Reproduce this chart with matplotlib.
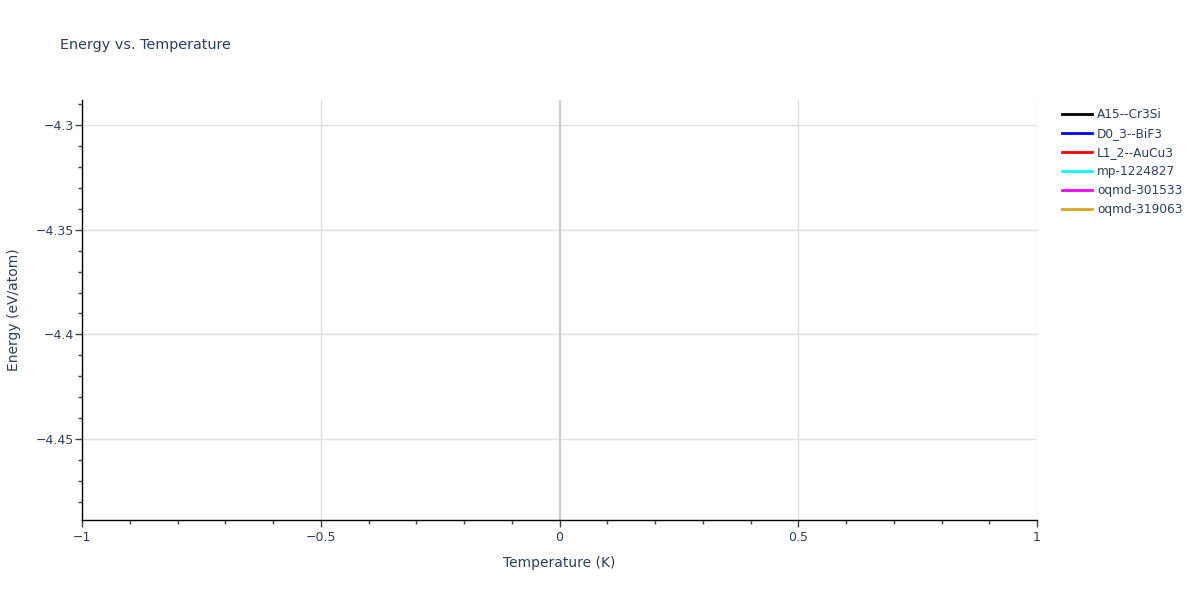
import matplotlib
matplotlib.use("Agg")
import matplotlib.pyplot as plt
from matplotlib.ticker import MultipleLocator, FuncFormatter
from matplotlib.lines import Line2D

plt.rcParams['font.family'] = ['DejaVu Sans']

# series in the legend (no points were drawn in the source chart)
names = ["A15--Cr3Si", "D0_3--BiF3", "L1_2--AuCu3", "mp-1224827", "oqmd-301533", "oqmd-319063"]
colors = ["black", "blue", "red", "cyan", "magenta", "goldenrod"]
temps = [[], [], [], [], [], []]
energies = [[], [], [], [], [], []]

xticks = [-1, -0.5, 0, 0.5, 1]
yticks = [-4.3, -4.35, -4.4, -4.45]

text_col = "#2a3f5f"
grid_col = "#e0e0e0"

fig = plt.figure(figsize=(12, 6), dpi=100)
ax = fig.add_axes([82 / 1200, 80 / 600, (1037 - 82) / 1200, 420 / 600])

for t, e, c, n in zip(temps, energies, colors, names):
    ax.plot(t, e, color=c, label=n, lw=2)

ax.set_xlim(-1, 1)
ax.set_ylim(-4.4887, -4.2880)

ax.set_xticks(xticks)
ax.set_yticks(yticks)
ax.xaxis.set_minor_locator(MultipleLocator(0.1))
ax.yaxis.set_minor_locator(MultipleLocator(0.01))

def fmt(v, pos):
    s = f"{v:g}"
    return s.replace("-", "\u2212")

ax.xaxis.set_major_formatter(FuncFormatter(fmt))
ax.yaxis.set_major_formatter(FuncFormatter(fmt))

ax.grid(True, which='major', color=grid_col, lw=1)
ax.axvline(0, color="#cccccc", lw=1.5, zorder=0.6)
ax.set_axisbelow(True)

for s in ['top', 'right']:
    ax.spines[s].set_visible(False)
for s in ['left', 'bottom']:
    ax.spines[s].set_color('black')
    ax.spines[s].set_linewidth(1)

ax.tick_params(which='major', direction='out', length=5, width=1, color='#444444',
               labelsize=9, labelcolor=text_col, pad=1)
ax.tick_params(axis='x', which='major', pad=3)
ax.tick_params(which='minor', direction='out', length=3, width=1, color='#444444')

ax.set_xlabel("Temperature (K)", fontsize=10, color=text_col)
ax.set_ylabel("Energy (eV/atom)", fontsize=10, color=text_col)
ax.xaxis.set_label_coords(0.5, (520 - 563) / 420)
ax.yaxis.set_label_coords((14 - 82) / 955, 0.5)
ax.xaxis.label.set_va('center')
ax.yaxis.label.set_va('center')

fig.text(60 / 1200, 1 - 45 / 600, "Energy vs. Temperature", fontsize=10.4,
         color=text_col, va='center', ha='left')

handles = [Line2D([0], [0], color=c, lw=2) for c in colors]
fig.legend(handles, names, loc='upper left', bbox_to_anchor=(1062 / 1200, 1 - 108 / 600),
           frameon=False, fontsize=8.7, labelcolor=text_col, handlelength=2.5,
           handletextpad=0.4, labelspacing=0.5, borderaxespad=0, borderpad=0)

fig.savefig("out.png", dpi=100)
